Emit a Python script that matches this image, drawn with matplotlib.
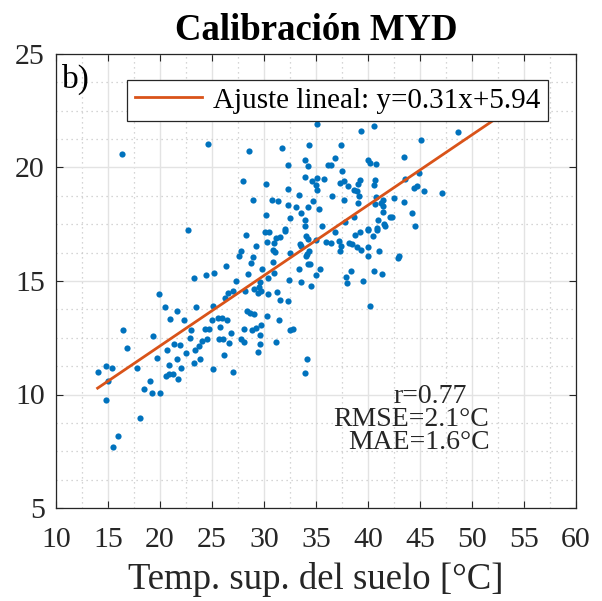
import matplotlib
matplotlib.use("Agg")
import matplotlib.pyplot as plt
from matplotlib.ticker import MultipleLocator

plt.rcParams['font.family'] = ['Liberation Serif', 'DejaVu Serif']

# Land surface temperature (x) vs air temperature (y)
lst = [16.3, 24.6, 22.7,
       35.07, 28.56, 31.76, 34.36, 37.4, 33.97, 32.27, 34.2, 36.8, 36.15, 36.47, 37.5,
       28.0, 30.16, 33.94, 34.58, 35.13, 35.74, 34.97, 35.07, 37.3, 37.7, 38.1, 38.7, 32.34,
       28.97, 30.8, 31.35, 33.37, 34.7, 36.5, 37.7, 32.27, 33.08, 34.2, 35.3, 33.6, 30.2,
       32.47, 33.97, 33.9, 32.0, 35.6, 37.8, 38.7,
       40.6, 39.3, 48.7, 45.1, 40.0, 40.2, 40.8, 43.5, 44.9, 39.2, 39.0, 40.67, 40.6, 43.56,
       44.7, 44.45, 45.4, 47.1, 38.9, 39.1, 40.8, 41.4, 42.5, 43.5, 40.7, 41.25, 41.4, 39.07,
       41.4, 42.1, 42.3, 44.2, 41.0, 41.5, 41.6, 44.5, 40.0, 40.9,
       38.75, 39.26, 40.03, 40.87, 40.45, 38.9, 39.3, 40.0, 41.06, 39.97, 42.9, 43.0, 40.6,
       41.35, 39.55, 40.16,
       23.24, 24.42, 25.16, 19.94, 20.5, 21.66, 23.49, 25.1, 20.96, 22.3, 25.03, 25.54,
       22.95, 24.33, 24.71, 16.47, 19.29, 22.88, 24.55, 24.04, 16.85, 21.38, 21.92, 23.78,
       25.67, 20.7, 23.37,
       22.53, 14.84, 15.42, 14.04, 14.97, 17.82, 19.68, 20.83, 21.6, 22.05, 23.24, 23.85,
       25.06, 20.6, 20.87, 21.28, 21.76, 19.04, 18.43, 19.2, 19.97, 14.8, 18.08, 15.99, 15.5,
       26.18, 29.45, 26.99, 34.13, 33.94,
       28.27, 30.1, 30.5, 32.0, 30.26, 29.2, 31.2, 31.5, 30.99, 30.83, 31.06, 27.76, 27.63,
       28.97, 28.72, 30.9, 26.3, 29.84, 30.96, 28.46, 30.35, 27.3, 29.6, 32.43, 33.6, 34.55,
       34.97, 35.4, 33.4, 32.5, 33.46, 33.56, 34.07, 34.2, 35.0, 34.04, 34.16, 34.29, 34.2,
       34.42, 35.94, 36.44, 36.86, 37.2, 37.4, 37.3, 38.2, 38.5, 38.4, 37.9, 37.95,
       29.0, 29.5, 29.68, 29.45, 28.14, 30.41, 31.25, 31.57, 32.27, 27.05, 26.57, 26.25,
       28.4, 28.65, 29.07, 30.26, 31.44, 26.0, 26.4, 25.77, 28.1, 28.8, 29.2, 29.74, 32.5,
       32.76, 26.83, 29.6, 26.1, 26.63, 27.8, 28.08, 31.2, 29.6]
tair = [20.6, 21.04, 17.23,
        21.92, 20.71, 20.86, 21.0, 21.0, 20.31, 20.09, 20.05, 20.4, 20.09, 20.09, 19.86,
        19.42, 19.29, 19.57, 19.39, 19.52, 19.48, 19.21, 19.01, 19.3, 19.42, 19.17, 19.0, 19.05,
        18.58, 18.58, 18.54, 18.8, 18.54, 18.76, 18.58, 18.33, 18.24, 18.24, 18.16, 18.01, 17.91,
        17.76, 17.67, 17.43, 17.3, 17.43, 17.6, 17.8,
        21.85, 21.6, 21.57, 21.22, 20.31, 20.22, 20.15, 20.47, 19.77, 19.46, 19.29, 19.43, 19.25, 19.5,
        19.2, 19.1, 18.96, 18.86, 18.98, 18.76, 18.69, 18.58, 18.67, 18.48, 18.39, 18.42, 18.29, 18.44,
        18.03, 17.82, 17.82, 18.01, 17.69, 17.51, 17.43, 17.44, 17.29, 17.34,
        17.01, 17.15, 17.23, 17.26, 16.97, 16.5, 16.35, 16.5, 16.3, 16.12, 16.02, 16.12, 15.45,
        15.32, 14.98, 13.89,
        15.15, 15.25, 15.37, 14.41, 13.84, 13.66, 13.84, 13.92, 13.32, 13.26, 13.26, 13.35,
        12.84, 12.87, 12.9, 12.84, 12.56, 12.5, 12.46, 12.37, 12.05, 12.22, 12.18, 12.13,
        12.43, 11.98, 11.98,
        11.84, 11.27, 11.18, 10.99, 10.61, 11.18, 11.61, 11.32, 11.56, 11.18, 11.37, 11.55,
        11.12, 10.8, 10.89, 10.89, 10.7, 10.61, 10.23, 10.05, 10.05, 9.76, 8.96, 8.15, 7.7,
        11.74, 11.86, 10.99, 11.56, 10.93,
        17.01, 17.16, 17.16, 17.19, 16.71, 16.56, 16.9, 16.94, 16.68, 16.38, 16.27, 16.3, 16.11,
        16.06, 15.81, 15.83, 15.65, 15.55, 15.36, 15.32, 15.14, 15.01, 14.95, 15.04, 14.96, 14.79,
        15.26, 15.54, 15.55, 16.24, 16.65, 16.56, 16.97, 16.87, 16.82, 16.09, 16.2, 16.3, 15.77,
        15.73, 16.72, 16.68, 17.15, 16.75, 16.52, 16.31, 16.68, 16.63, 15.43, 15.17, 14.89,
        14.66, 14.75, 14.54, 14.48, 14.54, 14.41, 14.51, 14.17, 14.11, 14.55, 14.48, 14.26,
        13.66, 13.57, 13.53, 13.45, 13.28, 13.37, 13.28, 12.99, 12.9, 12.84, 12.91, 13.07, 12.84,
        12.9, 12.71, 12.6, 12.46, 12.25, 12.43, 12.31, 12.33, 12.22]

slope = 0.31
intercept = 5.94
fit_range = [14.0, 52.0]
fit_label = "Ajuste lineal: y=0.31x+5.94"
stats_lines = ["r=0.77", "RMSE=2.1°C", "MAE=1.6°C"]

fig = plt.figure(figsize=(6.02, 6.01), dpi=100)
ax = fig.add_axes([56/602, 1 - 508/601, 520/602, 454/601])

ax.scatter(lst, tair, s=20, color='#0072BD', linewidths=0, zorder=3)
fx = fit_range
fy = [slope * v + intercept for v in fx]
ax.plot(fx, fy, color='#D95319', lw=2.0, zorder=4, label=fit_label)

ax.set_xlim(10, 60)
ax.set_ylim(5, 25)
ax.xaxis.set_major_locator(MultipleLocator(5))
ax.yaxis.set_major_locator(MultipleLocator(5))
ax.xaxis.set_minor_locator(MultipleLocator(2.5))
ax.yaxis.set_minor_locator(MultipleLocator(1.25))
ax.grid(which='major', color='#e3e3e3', lw=1.0, ls='-', zorder=0)
ax.grid(which='minor', color='#c8c8c8', lw=0.9, ls=(0, (1, 3)), zorder=0)
ax.set_axisbelow(True)
ax.tick_params(which='major', direction='in', top=True, right=True, length=5,
               width=0.8, labelsize=21.5, colors='#262626')
ax.tick_params(axis='x', which='major', pad=14)
ax.tick_params(axis='y', which='major', pad=8)
ax.tick_params(which='minor', length=0, top=True, right=True)
for sp in ax.spines.values():
    sp.set_color('#262626')
    sp.set_linewidth(0.9)

ax.set_title("Calibración MYD", fontsize=26.5, fontweight='bold', pad=10)
ax.set_xlabel("Temp. sup. del suelo [°C]", fontsize=26.5, color='#262626', labelpad=6)

leg = ax.legend(loc='upper left', bbox_to_anchor=(0.137, 0.943), fontsize=21,
                frameon=True, fancybox=False, edgecolor='#262626', framealpha=1,
                handlelength=2.3, borderpad=0.25, handletextpad=0.4, borderaxespad=0)
leg.get_frame().set_linewidth(0.9)

ax.text(0.011, 0.978, "b)", transform=ax.transAxes, fontsize=24, va='top', ha='left')

ax.text(0.72, 0.245, stats_lines[0], transform=ax.transAxes, fontsize=20, ha='center', va='center', color='#262626')
ax.text(0.683, 0.195, stats_lines[1], transform=ax.transAxes, fontsize=20, ha='center', va='center', color='#262626')
ax.text(0.698, 0.145, stats_lines[2], transform=ax.transAxes, fontsize=20, ha='center', va='center', color='#262626')

fig.savefig("out.png", dpi=100)
